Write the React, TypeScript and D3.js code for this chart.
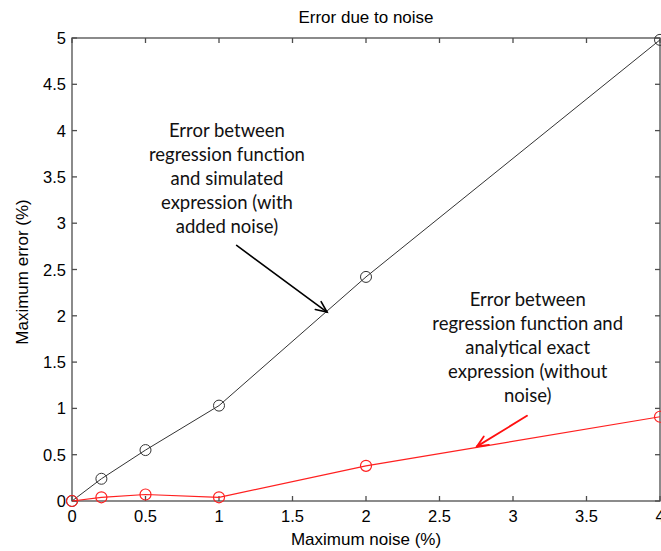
import React from "react";
import * as d3 from "d3";

const noiseLevels = [0, 0.2, 0.5, 1, 2, 4];
const errorWithNoise = [0, 0.24, 0.55, 1.03, 2.42, 4.98];
const errorWithoutNoise = [0, 0.04, 0.07, 0.04, 0.38, 0.91];
const xTicks = [0, 0.5, 1, 1.5, 2, 2.5, 3, 3.5, 4];
const yTicks = [0, 0.5, 1, 1.5, 2, 2.5, 3, 3.5, 4, 4.5, 5];

const title = "Error due to noise";
const xLabel = "Maximum noise (%)";
const yLabel = "Maximum error (%)";

const noteNoiseLines = ["Error between", "regression function", "and simulated", "expression (with", "added noise)"];
const noteExactLines = ["Error between", "regression function and", "analytical exact", "expression (without", "noise)"];
// annotation anchors in data units: [textX, textY, arrowFromX, arrowFromY, arrowToX, arrowToY]
const noteNoiseAnchor = [1.054, 3.93, 1.12, 2.76, 1.735, 2.04];
const noteExactAnchor = [3.1, 2.106, 3.095, 0.92, 2.755, 0.59];

const W = 661;
const H = 551;
const m = { left: 72, right: 660, top: 38, bottom: 501 };

export default function App() {
  const x = d3.scaleLinear().domain([0, 4]).range([m.left, m.right]);
  const y = d3.scaleLinear().domain([0, 5]).range([m.bottom, m.top]);
  const line = d3
    .line<[number, number]>()
    .x((d) => x(d[0]))
    .y((d) => y(d[1]));
  const blackPts: [number, number][] = noiseLevels.map((n, i) => [n, errorWithNoise[i]]);
  const redPts: [number, number][] = noiseLevels.map((n, i) => [n, errorWithoutNoise[i]]);
  const axisColor = "#4d4d4d";
  const tickLen = 5;
  const fmt = (v: number) => String(v);

  const arrow = (a: number[], color: string, width: number) => {
    const x1 = x(a[2]), y1 = y(a[3]), x2 = x(a[4]), y2 = y(a[5]);
    const ang = Math.atan2(y2 - y1, x2 - x1);
    const hl = 12, spread = 0.42;
    const p1 = [x2 - hl * Math.cos(ang - spread), y2 - hl * Math.sin(ang - spread)];
    const p2 = [x2 - hl * Math.cos(ang + spread), y2 - hl * Math.sin(ang + spread)];
    return (
      <g stroke={color} strokeWidth={width} fill="none" strokeLinecap="round">
        <line x1={x1} y1={y1} x2={x2} y2={y2} />
        <polyline points={`${p1[0]},${p1[1]} ${x2},${y2} ${p2[0]},${p2[1]}`} />
      </g>
    );
  };

  const noteFont = "Lato, 'Open Sans', sans-serif";
  const axFont = "'Liberation Sans', Arial, sans-serif";

  return (
    <svg width={W} height={H} style={{ position: "absolute", left: 0, top: 0, background: "#fff" }}>
      <rect x={0} y={0} width={W} height={H} fill="#fff" />
      <text x={(m.left + m.right) / 2} y={23} textAnchor="middle" fontFamily={axFont} fontSize={17} fill="#000">
        {title}
      </text>
      {/* box */}
      <rect x={m.left} y={m.top} width={m.right - m.left} height={m.bottom - m.top} fill="none" stroke={axisColor} strokeWidth={1.3} />
      {xTicks.map((t) => (
        <g key={"xt" + t}>
          <line x1={x(t)} x2={x(t)} y1={m.bottom} y2={m.bottom - tickLen} stroke={axisColor} strokeWidth={1.3} />
          <line x1={x(t)} x2={x(t)} y1={m.top} y2={m.top + tickLen} stroke={axisColor} strokeWidth={1.3} />
          <text x={x(t)} y={522} textAnchor="middle" fontFamily={axFont} fontSize={16.5} fill="#000">
            {fmt(t)}
          </text>
        </g>
      ))}
      {yTicks.map((t) => (
        <g key={"yt" + t}>
          <line x1={m.left} x2={m.left + tickLen} y1={y(t)} y2={y(t)} stroke={axisColor} strokeWidth={1.3} />
          <line x1={m.right} x2={m.right - tickLen} y1={y(t)} y2={y(t)} stroke={axisColor} strokeWidth={1.3} />
          <text x={66} y={y(t) + 6} textAnchor="end" fontFamily={axFont} fontSize={16.5} fill="#000">
            {fmt(t)}
          </text>
        </g>
      ))}
      <text x={366} y={545} textAnchor="middle" fontFamily={axFont} fontSize={17} fill="#000">
        {xLabel}
      </text>
      <text transform={`translate(28,272) rotate(-90)`} textAnchor="middle" fontFamily={axFont} fontSize={17} fill="#000">
        {yLabel}
      </text>

      <path d={line(blackPts) || ""} fill="none" stroke="#333" strokeWidth={1} />
      {blackPts.map((p, i) => (
        <circle key={"b" + i} cx={x(p[0])} cy={y(p[1])} r={5.5} fill="none" stroke="#333" strokeWidth={1} />
      ))}
      <path d={line(redPts) || ""} fill="none" stroke="#ff2020" strokeWidth={1.2} />
      {redPts.map((p, i) => (
        <circle key={"r" + i} cx={x(p[0])} cy={y(p[1])} r={5.5} fill="none" stroke="#ff2020" strokeWidth={1.2} />
      ))}

      <text textAnchor="middle" fontFamily={noteFont} fontSize={18.5} fill="#111">
        {noteNoiseLines.map((s, i) => (
          <tspan key={i} x={x(noteNoiseAnchor[0])} y={y(noteNoiseAnchor[1]) + i * 24}>
            {s}
          </tspan>
        ))}
      </text>
      {arrow(noteNoiseAnchor, "#000", 1.6)}

      <text textAnchor="middle" fontFamily={noteFont} fontSize={18.5} fill="#111">
        {noteExactLines.map((s, i) => (
          <tspan key={i} x={x(noteExactAnchor[0])} y={y(noteExactAnchor[1]) + i * 24}>
            {s}
          </tspan>
        ))}
      </text>
      {arrow(noteExactAnchor, "#ff1010", 1.8)}
    </svg>
  );
}
